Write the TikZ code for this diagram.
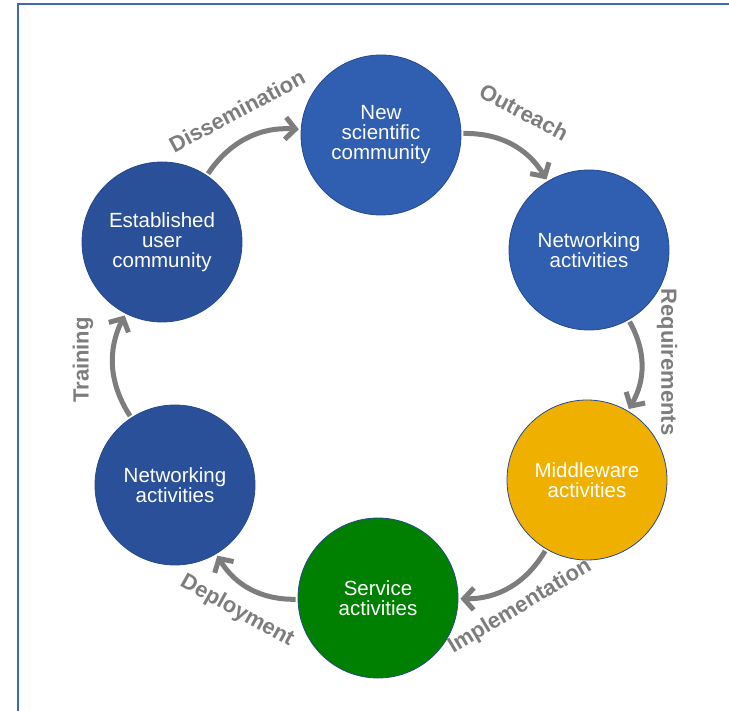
\documentclass[tikz,border=0pt]{standalone}
\usepackage{fontspec}
\setmainfont{Liberation Sans}
\usetikzlibrary{arrows.meta}

\definecolor{phaseblue}{RGB}{48,94,176}
\definecolor{phasedark}{RGB}{43,80,154}
\definecolor{phaseedge}{RGB}{40,74,140}
\definecolor{phaseyellow}{RGB}{240,176,0}
\definecolor{phasegreen}{RGB}{0,128,0}
\definecolor{flowgray}{RGB}{125,125,125}
\definecolor{framecol}{RGB}{68,104,184}

\begin{document}
\begin{tikzpicture}[x=1pt,y=-1pt,>={Straight Barb[length=10pt,width=22pt]},
	phase/.style={circle,draw=phaseedge,line width=0.8pt,minimum size=160pt,inner sep=0pt,align=center,text=white,font=\fontsize{20.5}{20}\selectfont},
	flow/.style={->,draw=flowgray,line width=5pt,shorten >=2pt,shorten <=2pt},
	flowlabel/.style={text=flowgray,font=\fontsize{22}{22}\selectfont\bfseries}]

\useasboundingbox (0,0) rectangle (729,711);
\draw[framecol,line width=2pt] (17.5,720) -- (17.5,4.5) -- (740,4.5);

\node[phase,fill=phasedark	]   (est)  at (162,242)		{Established\\user\\community};
\node[phase,fill=phaseblue	]   (new)  at (381,135)		{New\\scientific\\community};
\node[phase,fill=phaseblue	]   (netR) at (589,250)		{Networking\\activities};
\node[phase,fill=phaseyellow]   (mid)  at (587,480)		{Middleware\\activities};
\node[phase,fill=phasegreen	]   (serv) at (378,598)		{Service\\activities};
\node[phase,fill=phasedark	]   (netL) at (175,485)		{Networking\\activities};

	\path[flow] (est)  edge[bend left=30]	(new)
				(new)  edge[bend left=30]	(netR)
				(netR) edge[bend left=30]	(mid)
				(mid)  edge[bend left=30]	(serv)
				(serv) edge[bend left=30]	(netL)
				(netL) edge[bend left=30]	(est);

\node[flowlabel,rotate=28	]   (dis)  at (237,111)		{Dissemination};
\node[flowlabel,rotate=-28	]   (out)  at (524,112)		{Outreach};
\node[flowlabel,rotate=-90	]   (req)  at (667,362)		{Requirements};
\node[flowlabel,rotate=31	]   (imp)  at (520,607)		{Implementation};
\node[flowlabel,rotate=-29	]   (dep)  at (237,611)		{Deployment};
\node[flowlabel,rotate=90	]   (tra)  at (83,360)		{Training};

\end{tikzpicture}
\end{document}
